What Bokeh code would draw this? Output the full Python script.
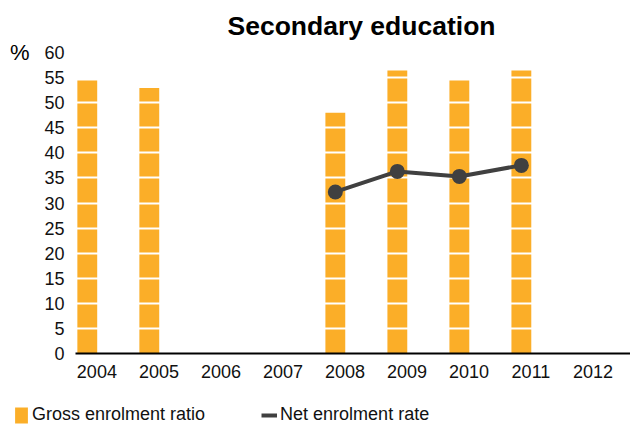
from bokeh.plotting import figure
from bokeh.layouts import column
from bokeh.models import (ColumnDataSource, Range1d, FixedTicker, Legend, LegendItem, LinearAxis)
from bokeh.embed import file_html
from bokeh.resources import INLINE

# ---- data ----
years = [2004, 2005, 2006, 2007, 2008, 2009, 2010, 2011, 2012]
gross_enrolment_ratio = [54.4, 52.9, None, None, 48.0, 56.4, 54.4, 56.4, None]
net_enrolment_rate = [None, None, None, None, 32.2, 36.3, 35.3, 37.5, None]
y_ticks = [0, 5, 10, 15, 20, 25, 30, 35, 40, 45, 50, 55, 60]
title_text = "Secondary education"
series_names = ["Gross enrolment ratio", "Net enrolment rate"]
unit_text = "%"

FONT = "Liberation Sans"
ORANGE = "#FBAE28"
DARK = "#404040"

bar_src = ColumnDataSource(dict(
    x=[y for y, v in zip(years, gross_enrolment_ratio) if v is not None],
    top=[v for v in gross_enrolment_ratio if v is not None]))
line_src = ColumnDataSource(dict(
    x=[y for y, v in zip(years, net_enrolment_rate) if v is not None],
    y=[v for v in net_enrolment_rate if v is not None]))

p = figure(width=630, height=395, output_backend="svg", toolbar_location=None,
           x_range=Range1d(2003.81, 2012.76), y_range=Range1d(0, 60),
           min_border_left=75, min_border_right=0, min_border_top=52,
           min_border_bottom=42)
p.outline_line_color = None
p.background_fill_color = "white"
p.border_fill_color = "white"

bars = p.vbar(x="x", top="top", width=0.32, bottom=0, source=bar_src,
              fill_color=ORANGE, line_color=None)
# white gridlines drawn over the bars (as glyphs, at the y tick values)
p.hspan(y=y_ticks[1:], line_color="white", line_width=2)
ln = p.line(x="x", y="y", source=line_src, line_color=DARK, line_width=4)
pts = p.scatter(x="x", y="y", source=line_src, size=15, fill_color=DARK,
                line_color=None)

p.xgrid.visible = False
p.ygrid.visible = False

# y axis
p.yaxis.ticker = FixedTicker(ticks=y_ticks)
p.yaxis.axis_line_color = None
p.yaxis.major_tick_line_color = None
p.yaxis.minor_tick_line_color = None
p.yaxis.major_tick_out = 0
p.yaxis.major_tick_in = 0
p.yaxis.minor_tick_out = 0
p.yaxis.minor_tick_in = 0
p.yaxis.major_label_standoff = 11
p.yaxis.major_label_text_font = FONT
p.yaxis.major_label_text_font_size = "18px"
p.yaxis.major_label_text_color = "#111111"

# unit sign "%" as a second, label-only axis left of the value labels
unit_axis = LinearAxis(ticker=FixedTicker(ticks=[y_ticks[-1]]),
                       major_label_overrides={y_ticks[-1]: unit_text},
                       axis_line_color=None, major_tick_line_color=None,
                       minor_tick_line_color=None, major_tick_out=0,
                       major_tick_in=0, minor_tick_out=0, minor_tick_in=0,
                       major_label_standoff=12,
                       major_label_text_font=FONT,
                       major_label_text_font_size="22px",
                       major_label_text_color="black")
p.add_layout(unit_axis, "left")

# x axis (labels sit slightly right of bar centres, as in the source)
label_shift = 0.155
xt = [y + label_shift for y in years]
p.xaxis.ticker = FixedTicker(ticks=xt)
p.xaxis.major_label_overrides = {t: str(y) for t, y in zip(xt, years)}
p.xaxis.axis_line_color = "black"
p.xaxis.axis_line_width = 2
p.xaxis.major_tick_line_color = None
p.xaxis.minor_tick_line_color = None
p.xaxis.major_label_standoff = 5
p.xaxis.major_label_text_font = FONT
p.xaxis.major_label_text_font_size = "18px"
p.xaxis.major_label_text_color = "#111111"

# title
p.title.text = title_text
p.title.align = "left"
p.title.vertical_align = "top"
p.title.offset = 152
p.title.text_font = FONT
p.title.text_font_size = "26.5px"
p.title.text_font_style = "bold"
p.title.text_color = "black"
p.title.standoff = 19

# legend strip below the chart (its own small canvas so nothing is clipped)
pl = figure(width=630, height=30, output_backend="svg", toolbar_location=None,
            x_axis_location=None, y_axis_location=None,
            x_range=Range1d(0, 1), y_range=Range1d(0, 1),
            min_border_left=0, min_border_right=0, min_border_top=0,
            min_border_bottom=0)
pl.outline_line_color = None
pl.background_fill_color = "white"
pl.border_fill_color = "white"
for g in pl.grid:
    g.visible = False
for fig in (p, pl):
    if "frame_align" in fig.properties():
        fig.frame_align = False
# same series, lying outside this strip's view: they only supply legend swatches
leg_bar = pl.vbar(x="x", top="top", width=0.32, bottom=0, source=bar_src,
                  fill_color=ORANGE, line_color=None)
leg_line = pl.line(x="x", y="y", source=line_src, line_color=DARK, line_width=4)

legend = Legend(items=[LegendItem(label=series_names[0], renderers=[leg_bar]),
                       LegendItem(label=series_names[1], renderers=[leg_line])],
                location=(13, 0), orientation="horizontal",
                padding=0, margin=0, spacing=56, label_standoff=3,
                glyph_width=16, glyph_height=20, label_height=20,
                label_text_font=FONT, label_text_font_size="18px",
                label_text_color="#111111",
                background_fill_alpha=0, border_line_alpha=0)
pl.add_layout(legend, "center")

layout = column(p, pl, spacing=0)
open("out.html", "w").write(file_html(layout, INLINE))
